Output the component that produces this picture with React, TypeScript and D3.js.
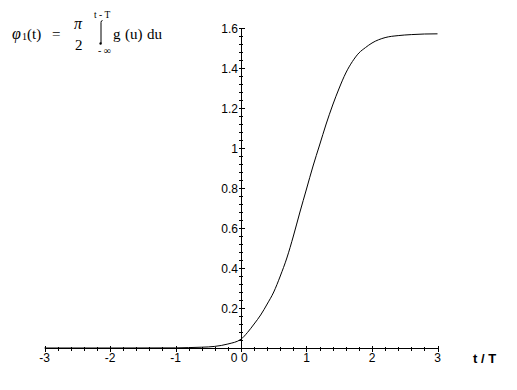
import React, { useEffect, useRef } from 'react';
import * as d3 from 'd3';

// curve samples (t/T, phi_1)
const tValues = [-3, -2, -1, -0.8, -0.6, -0.4, -0.2, 0, 0.1, 0.2, 0.3, 0.4, 0.5, 0.6, 0.7, 0.8, 0.9,
  1.0, 1.1, 1.2, 1.3, 1.4, 1.5, 1.6, 1.7, 1.8, 1.9, 2.0, 2.2, 2.4, 2.6, 2.8, 3.0];
const phiValues = [0, 0, 0.0005, 0.002, 0.004, 0.008, 0.02, 0.044, 0.078, 0.12, 0.165, 0.22, 0.28, 0.36, 0.45, 0.56, 0.68,
  0.795, 0.91, 1.015, 1.12, 1.215, 1.3, 1.375, 1.432, 1.475, 1.502, 1.525, 1.552, 1.562, 1.567, 1.57, 1.5708];

const xTickValues = [-3, -2, -1, 1, 2, 3];
const xTickLabels = ['-3', '-2', '-1', '1', '2', '3'];
const yTickValues = [0.2, 0.4, 0.6, 0.8, 1, 1.2, 1.4, 1.6];
const yTickLabels = ['0.2', '0.4', '0.6', '0.8', '1', '1.2', '1.4', '1.6'];
const xDomain = [-3, 3];
const yDomain = [0, 1.6];

function App() {
  const svgRef = useRef<SVGSVGElement>(null);

  useEffect(() => {
    var svg = d3.select(svgRef.current);
    svg.selectAll('*').remove();

    const x = d3.scaleLinear().domain(xDomain).range([44.5, 437.5]);
    const y = d3.scaleLinear().domain(yDomain).range([348, 28]);
    const x0 = Math.round(x(0)) + 0.5;
    const y0 = Math.round(y(0)) + 0.5;

    var axes = svg.append('g').attr('shape-rendering', 'crispEdges').attr('stroke', '#000');

    // axis lines
    axes.append('line').attr('x1', x(-3)).attr('x2', x(3)).attr('y1', y0).attr('y2', y0);
    axes.append('line').attr('x1', x0).attr('x2', x0).attr('y1', y(1.6)).attr('y2', y0);

    // x ticks (major every 1, minor every 0.2)
    var xMinor = d3.range(-15, 16).map(i => i / 5);
    axes.selectAll('.xt').data(xMinor).join('line').attr('class', 'xt')
      .attr('x1', d => Math.round(x(d)) + 0.5).attr('x2', d => Math.round(x(d)) + 0.5)
      .attr('y1', (d, i) => y0 - (i % 5 === 0 ? 3 : 2))
      .attr('y2', (d, i) => y0 + (i % 5 === 0 ? 3 : 2));

    // y ticks (major every 0.2, minor every 0.04)
    var yMinor = d3.range(1, 41).map(i => i * 0.04);
    axes.selectAll('.yt').data(yMinor).join('line').attr('class', 'yt')
      .attr('y1', d => Math.round(y(d)) + 0.5).attr('y2', d => Math.round(y(d)) + 0.5)
      .attr('x1', (d, i) => x0 - 3)
      .attr('x2', (d, i) => x0 + ((i + 1) % 5 === 0 ? 3 : 1));

    var font = "'Liberation Sans', Arial, sans-serif";

    // tick labels
    svg.selectAll('.xl').data(xTickValues).join('text').attr('class', 'xl')
      .attr('x', d => x(d)).attr('y', 362)
      .attr('text-anchor', 'middle').style('font-family', font).style('font-size', '12px')
      .text((d, i) => xTickLabels[i]);
    svg.selectAll('.yl').data(yTickValues).join('text').attr('class', 'yl')
      .attr('x', x0 - 3.5).attr('y', d => y(d) + 4.5)
      .attr('text-anchor', 'end').style('font-family', font).style('font-size', '12px')
      .text((d, i) => yTickLabels[i]);
    // the two zeros at the origin
    svg.append('text').attr('x', x0 - 4).attr('y', 362).attr('text-anchor', 'end')
      .style('font-family', font).style('font-size', '12px').text('0');
    svg.append('text').attr('x', x0 - 0.5).attr('y', 362).attr('text-anchor', 'start')
      .style('font-family', font).style('font-size', '12px').text('0');

    // axis title
    svg.append('text').attr('x', 473).attr('y', 363)
      .style('font-family', font).style('font-size', '13px').style('font-weight', 'bold')
      .text('t / T');

    // the curve
    const line = d3.line<number>()
      .x((d, i) => x(tValues[i]))
      .y(d => y(d))
      .curve(d3.curveMonotoneX);
    svg.append('path').datum(phiValues).attr('d', line)
      .attr('fill', 'none').attr('stroke', '#000').attr('stroke-width', 1);

    // formula in the top left corner
    var serif = "'Liberation Serif', 'Times New Roman', serif";
    var f = svg.append('g').style('font-family', serif).attr('fill', '#000');
    f.append('text').attr('x', 12).attr('y', 39).style('font-size', '16px').style('font-style', 'italic').text('φ');
    f.append('text').attr('x', 22).attr('y', 40).style('font-size', '10px').text('1');
    f.append('text').attr('x', 27).attr('y', 39).style('font-size', '15px').text('(t)');
    f.append('text').attr('x', 52).attr('y', 39).style('font-size', '15px').text('=');
    f.append('text').attr('x', 74).attr('y', 29).style('font-size', '16px').style('font-style', 'italic').text('π');
    f.append('text').attr('x', 75).attr('y', 49.5).style('font-size', '15px').text('2');
    f.append('text').attr('x', 94).attr('y', 18).style('font-size', '9.5px').text('t - T');
    f.append('text').attr('x', 98).attr('y', 54).style('font-size', '10px').text('- ∞');
    f.append('path').attr('d', 'M102.5,20.5 Q101,20.5 101,22.5 L101,43')
      .attr('fill', 'none').attr('stroke', '#000').attr('stroke-width', 1);
    f.append('circle').attr('cx', 100.6).attr('cy', 43.5).attr('r', 1.2);
    f.append('text').attr('x', 113).attr('y', 39).style('font-size', '15px').text('g');
    f.append('text').attr('x', 125).attr('y', 39).style('font-size', '15px').text('(u)');
    f.append('text').attr('x', 147).attr('y', 39).style('font-size', '15px').text('du');
  }, []);

  return (
    <svg ref={svgRef} width={517} height={390}
      style={{ position: 'absolute', left: 0, top: 0, background: '#fff' }} />
  );
}

export default App;
